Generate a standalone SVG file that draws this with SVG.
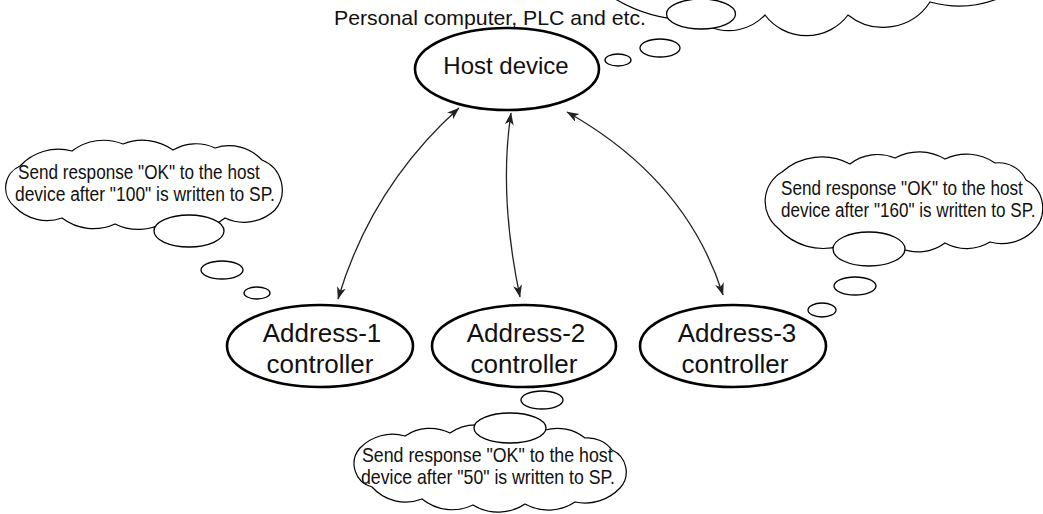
<svg xmlns="http://www.w3.org/2000/svg" width="1043" height="514" viewBox="0 0 1043 514">
<style>
.node{fill:#fff;stroke:#000;stroke-width:2.6}
.cloud{fill:#fff;stroke:#000;stroke-width:1.2;stroke-linejoin:miter}
.bub{fill:#fff;stroke:#000;stroke-width:1.3}
.t{font-family:"Liberation Sans",Arial,sans-serif;fill:#111}
.big{font-size:26px;text-anchor:middle}
.note{font-size:21px}
.conn{fill:none;stroke:#222;stroke-width:1.3}
</style>
<defs>
<marker id="ah" markerUnits="userSpaceOnUse" markerWidth="14" markerHeight="10" refX="12" refY="4.5" orient="auto-start-reverse">
<path d="M0,0 L12.5,4.5 L0,9 L3.5,4.5 Z" fill="#222"/>
</marker>
</defs>
<rect width="1043" height="514" fill="#fff"/>

<g id="host-note">
<path class="cloud" d="M612,-3 A150,150 0 0 0 688,20 L710,27 A50,50 0 0 0 765,15 A52,52 0 0 0 848,15 A56,56 0 0 0 930,2 A108,108 0 0 0 1002,-3 Z"/>
<ellipse class="bub" cx="701" cy="14" rx="34.5" ry="15"/>
<ellipse class="bub" cx="660" cy="48" rx="20" ry="9"/>
<ellipse class="bub" cx="618" cy="60" rx="13" ry="6"/>
<text class="t" x="334" y="25" font-size="21" textLength="312" lengthAdjust="spacingAndGlyphs">Personal computer, PLC and etc.</text>
</g>

<g id="host">
<ellipse class="node" cx="507" cy="69" rx="92" ry="41"/>
<text class="t" x="506" y="74" font-size="24" text-anchor="middle">Host device</text>
</g>

<g id="connectors">
<path class="conn" d="M338,299 Q371.5,186.5 459,108" marker-start="url(#ah)" marker-end="url(#ah)"/>
<path class="conn" d="M520,297 Q498.5,195 511,113" marker-start="url(#ah)" marker-end="url(#ah)"/>
<path class="conn" d="M567,112 C641,153.7 697.5,214 723,295" marker-start="url(#ah)" marker-end="url(#ah)"/>
</g>

<g id="ctrl1">
<ellipse class="node" cx="320" cy="346" rx="93" ry="41"/>
<text class="t big" x="322" y="342">Address-1</text>
<text class="t big" x="320" y="373">controller</text>
</g>
<g id="ctrl2">
<ellipse class="node" cx="524" cy="346" rx="92" ry="41"/>
<text class="t big" x="526" y="342">Address-2</text>
<text class="t big" x="524" y="373">controller</text>
</g>
<g id="ctrl3">
<ellipse class="node" cx="733" cy="346" rx="93" ry="41"/>
<text class="t big" x="737" y="342">Address-3</text>
<text class="t big" x="735" y="373">controller</text>
</g>

<g id="note1">
<path class="cloud" d="M20,166 A52,52 0 0 1 72,151 A52,52 0 0 1 123,144 A52,52 0 0 1 173,150 A45,45 0 0 1 215,148 A45,45 0 0 1 262,160 A32,32 0 0 1 275,210 A45,45 0 0 1 225,218 A52,52 0 0 1 165,222 A52,52 0 0 1 115,224 A52,52 0 0 1 62,218 A45,45 0 0 1 15,207 A24,24 0 0 1 20,166 Z"/>
<ellipse class="bub" cx="189" cy="231" rx="35" ry="16"/>
<ellipse class="bub" cx="222" cy="270" rx="21" ry="9"/>
<ellipse class="bub" cx="257" cy="293" rx="13" ry="6"/>
<text class="t note" transform="translate(18,179) scale(0.817,1)">Send response "OK" to the host</text>
<text class="t note" transform="translate(15,201) scale(0.83,1)">device after "100" is written to SP.</text>
</g>

<g id="note3">
<path class="cloud" d="M782,172 A60,60 0 0 1 850,164 A45,45 0 0 1 895,158 A50,50 0 0 1 945,159 A50,50 0 0 1 995,163 A30,30 0 0 1 1026,180 A32,32 0 0 1 1032,232 A45,45 0 0 1 990,242 A45,45 0 0 1 945,243 A45,45 0 0 1 900,248 A60,60 0 0 1 840,246 A60,60 0 0 1 778,228 A34,34 0 0 1 782,172 Z"/>
<ellipse class="bub" cx="869" cy="249" rx="36" ry="17"/>
<ellipse class="bub" cx="855" cy="286" rx="21" ry="9"/>
<ellipse class="bub" cx="822" cy="310" rx="14" ry="7"/>
<text class="t note" transform="translate(781,195) scale(0.817,1)">Send response "OK" to the host</text>
<text class="t note" transform="translate(781,217) scale(0.813,1)">device after "160" is written to SP.</text>
</g>

<g id="note2">
<path class="cloud" d="M360,448 A45,45 0 0 1 405,436 A45,45 0 0 1 450,433 A45,45 0 0 1 480,425 A60,60 0 0 1 545,430 A45,45 0 0 1 585,438 A30,30 0 0 1 612,450 A24,24 0 0 1 620,488 A48,48 0 0 1 575,502 A48,48 0 0 1 525,504 A48,48 0 0 1 473,505 A48,48 0 0 1 422,499 A45,45 0 0 1 372,487 A24,24 0 0 1 360,448 Z"/>
<ellipse class="bub" cx="510" cy="428" rx="36" ry="15"/>
<ellipse class="bub" cx="542" cy="400" rx="21" ry="9"/>
<text class="t note" transform="translate(362,462) scale(0.847,1)">Send response "OK" to the host</text>
<text class="t note" transform="translate(361,484) scale(0.842,1)">device after "50" is written to SP.</text>
</g>
</svg>
